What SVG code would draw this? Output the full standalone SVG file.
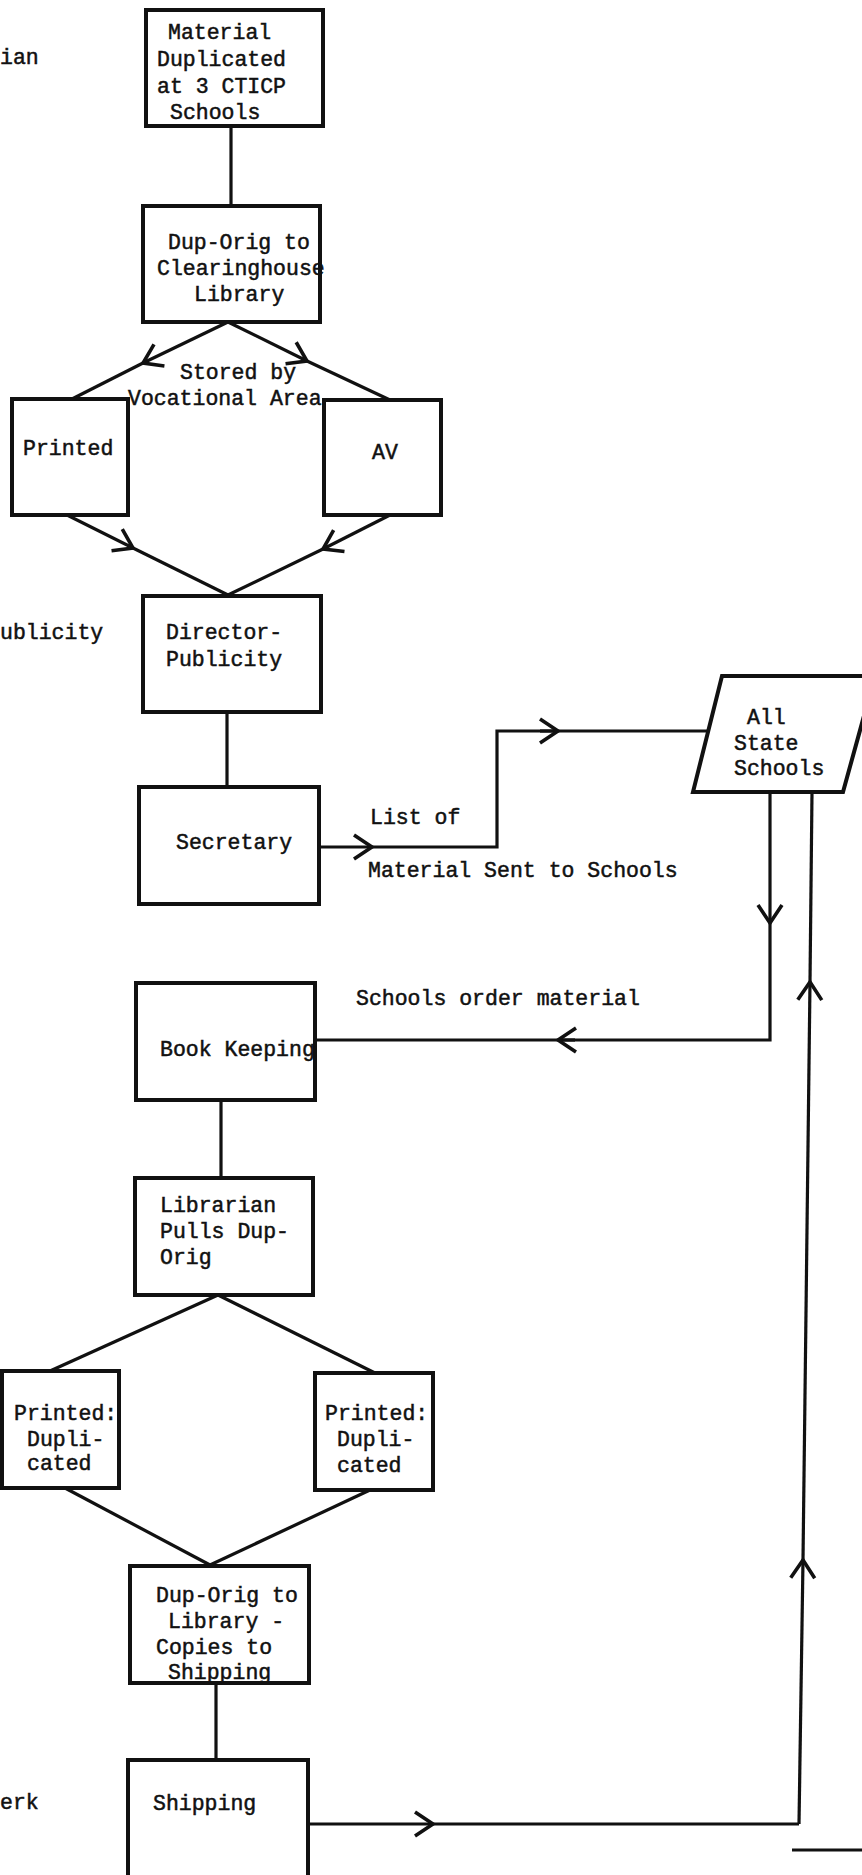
<svg xmlns="http://www.w3.org/2000/svg" width="862" height="1875" viewBox="0 0 862 1875">
<style>
.bg{fill:#ffffff}
.box{fill:none;stroke:#111;stroke-width:4}
.ln{fill:none;stroke:#111;stroke-width:3.2;stroke-linejoin:miter;stroke-linecap:butt}
.ar{fill:none;stroke:#111;stroke-width:3.2;marker-end:url(#chev)}
text{font-family:"Liberation Mono","DejaVu Sans Mono",monospace;font-size:21.5px;fill:#111;stroke:#111;stroke-width:0.5}
</style>
<defs>
<marker id="chev" markerUnits="userSpaceOnUse" markerWidth="40" markerHeight="40" refX="0" refY="0" orient="auto" viewBox="-20 -20 40 40" overflow="visible">
<path d="M -18 -12 L 0 0 L -18 12" fill="none" stroke="#111" stroke-width="3.6"/>
</marker>
</defs>
<rect class="bg" x="0" y="0" width="862" height="1875"/>

<g id="side-labels">
<text x="0" y="64">ian</text>
<text x="0" y="639">ublicity</text>
<text x="0" y="1809">erk</text>
</g>

<g id="connectors">
<path class="ln" d="M 231 126 L 231 206"/>
<path class="ar" d="M 228 322 L 143 363"/>
<path class="ln" d="M 143 363 L 72 399"/>
<path class="ar" d="M 228 322 L 307 361"/>
<path class="ln" d="M 307 361 L 390 400"/>
<path class="ar" d="M 67 515 L 133 548"/>
<path class="ln" d="M 133 548 L 228 595"/>
<path class="ar" d="M 390 515 L 323 549"/>
<path class="ln" d="M 323 549 L 228 595"/>
<path class="ln" d="M 227 712 L 227 787"/>
<path class="ar" d="M 318 847 L 372 847"/>
<path class="ln" d="M 372 847 L 497 847 L 497 731 L 558 731"/>
<path class="ar" d="M 540 731 L 558 731"/>
<path class="ln" d="M 558 731 L 708 731"/>
<path class="ar" d="M 770 792 L 770 923"/>
<path class="ln" d="M 770 923 L 770 1040 L 558 1040"/>
<path class="ar" d="M 575 1040 L 558 1040"/>
<path class="ln" d="M 558 1040 L 314 1040"/>
<path class="ln" d="M 221 1100 L 221 1178"/>
<path class="ln" d="M 218 1295 L 50 1371"/>
<path class="ln" d="M 218 1295 L 375 1373"/>
<path class="ln" d="M 65 1488 L 210 1565"/>
<path class="ln" d="M 370 1490 L 210 1565"/>
<path class="ln" d="M 216 1683 L 216 1760"/>
<path class="ar" d="M 308 1824 L 433 1824"/>
<path class="ln" d="M 433 1824 L 799 1824"/>
<path class="ar" d="M 799 1824 L 803 1560"/>
<path class="ar" d="M 803 1560 L 810 982"/>
<path class="ln" d="M 810 982 L 812 792"/>
<path class="ln" d="M 792 1850 L 862 1850"/>
</g>

<g id="n-material">
<rect class="box" x="146" y="10" width="177" height="116"/>
<text x="168" y="39">Material</text>
<text x="157" y="66">Duplicated</text>
<text x="157" y="93">at 3 CTICP</text>
<text x="170" y="119">Schools</text>
</g>

<g id="n-clearinghouse">
<rect class="box" x="143" y="206" width="177" height="116"/>
<text x="168" y="249">Dup-Orig to</text>
<text x="157" y="275">Clearinghouse</text>
<text x="194" y="301">Library</text>
</g>

<g id="lbl-stored">
<text x="180" y="379">Stored by</text>
<text x="128" y="405">Vocational Area</text>
</g>

<g id="n-printed">
<rect class="box" x="12" y="399" width="116" height="116"/>
<text x="23" y="455">Printed</text>
</g>

<g id="n-av">
<rect class="box" x="324" y="400" width="117" height="115"/>
<text x="372" y="459">AV</text>
</g>

<g id="n-director">
<rect class="box" x="143" y="596" width="178" height="116"/>
<text x="166" y="639">Director-</text>
<text x="166" y="666">Publicity</text>
</g>

<g id="n-secretary">
<rect class="box" x="139" y="787" width="180" height="117"/>
<text x="176" y="849">Secretary</text>
</g>

<g id="lbl-list">
<text x="370" y="824">List of</text>
<text x="368" y="877">Material Sent to Schools</text>
</g>

<g id="n-allstate">
<polygon class="box" points="722,676 875,676 843,792 693,792"/>
<text x="747" y="724">All</text>
<text x="734" y="750">State</text>
<text x="734" y="775">Schools</text>
</g>

<g id="lbl-order">
<text x="356" y="1005">Schools order material</text>
</g>

<g id="n-bookkeeping">
<rect class="box" x="136" y="983" width="179" height="117"/>
<text x="160" y="1056">Book Keeping</text>
</g>

<g id="n-librarian">
<rect class="box" x="135" y="1178" width="178" height="117"/>
<text x="160" y="1212">Librarian</text>
<text x="160" y="1238">Pulls Dup-</text>
<text x="160" y="1264">Orig</text>
</g>

<g id="n-printed-dup-left">
<rect class="box" x="2" y="1371" width="117" height="117"/>
<text x="14" y="1420">Printed:</text>
<text x="27" y="1446">Dupli-</text>
<text x="27" y="1470">cated</text>
</g>

<g id="n-printed-dup-right">
<rect class="box" x="315" y="1373" width="118" height="117"/>
<text x="325" y="1420">Printed:</text>
<text x="337" y="1446">Dupli-</text>
<text x="337" y="1472">cated</text>
</g>

<g id="n-dup-library">
<rect class="box" x="130" y="1566" width="179" height="117"/>
<text x="156" y="1602">Dup-Orig to</text>
<text x="168" y="1628">Library -</text>
<text x="156" y="1654">Copies to</text>
<text x="168" y="1679">Shipping</text>
</g>

<g id="n-shipping">
<rect class="box" x="128" y="1760" width="180" height="140"/>
<text x="153" y="1810">Shipping</text>
</g>
</svg>
